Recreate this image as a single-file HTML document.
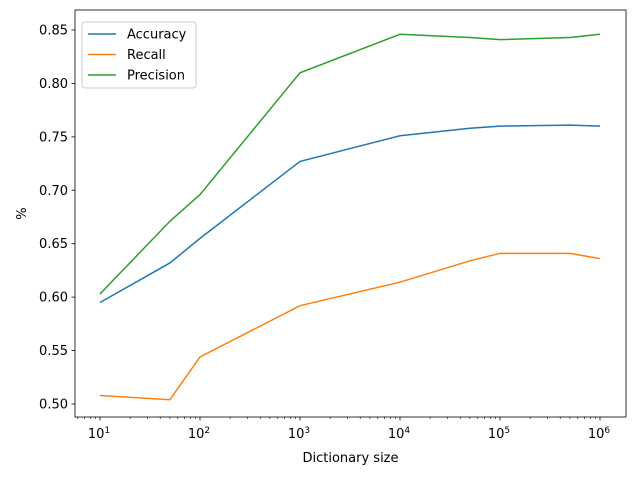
<!DOCTYPE html>
<html><head><meta charset="utf-8"><style>
body{margin:0;background:#fff}
svg text{font-family:"DejaVu Sans","Liberation Sans",sans-serif;font-size:13px;fill:#000}
</style></head><body>
<svg id="chart" width="640" height="480" xmlns="http://www.w3.org/2000/svg">
<rect x="0" y="0" width="640" height="480" fill="#fff"/>
</svg>
<script>
const xValues=[10,50,100,1000,10000,50000,100000,500000,1000000];
const accuracy=[0.595,0.632,0.655,0.727,0.751,0.758,0.760,0.761,0.760];
const recall=[0.508,0.504,0.544,0.592,0.614,0.634,0.641,0.641,0.636];
const precision=[0.603,0.671,0.696,0.810,0.846,0.843,0.841,0.843,0.846];
const yTicks=[0.50,0.55,0.60,0.65,0.70,0.75,0.80,0.85];
const xTickExps=[1,2,3,4,5,6];
const seriesNames=["Accuracy","Recall","Precision"];
const colors=["#1f77b4","#ff7f0e","#2ca02c"];

const svg=document.getElementById('chart');
const NS="http://www.w3.org/2000/svg";
const L=75,R=626,T=10,B=417;
function xs(v){return 100+(Math.log10(v)-1)*100;}
function ys(v){return 404-(v-0.5)/0.35*374;}
function mk(tag,attrs,parent){const e=document.createElementNS(NS,tag);for(const k in attrs)e.setAttribute(k,attrs[k]);(parent||svg).appendChild(e);return e;}

const all=[accuracy,recall,precision];
all.forEach((s,i)=>{
  const p=mk('polyline',{points:s.map((v,j)=>xs(xValues[j])+','+ys(v)).join(' '),fill:'none',stroke:colors[i],'stroke-width':1.5});
  
  
});
const box=mk('rect',{x:L,y:T,width:R-L,height:B-T,fill:'none',stroke:'#000','stroke-width':0.8});


yTicks.forEach(v=>{
  const y=ys(v);
  mk('line',{x1:L-3.5,x2:L,y1:y,y2:y,stroke:'#000','stroke-width':0.8});
  const t=mk('text',{x:L-7,y:y+4.5,'text-anchor':'end'});t.textContent=v.toFixed(2);
  
  
});
for(let d=1;d<=6;d++){
  for(let m=2;m<=9;m++){
    const v=m*Math.pow(10,d-1); if(d===1)continue;
    const x=xs(v); if(x<L||x>R)continue;
    mk('line',{x1:x,x2:x,y1:B,y2:B+2,stroke:'#000','stroke-width':0.6});
  }
}
for(let m=2;m<=9;m++){const x=xs(m*Math.pow(10,6));if(x<=R)mk('line',{x1:x,x2:x,y1:B,y2:B+2,stroke:'#000','stroke-width':0.6});}
for(let m=6;m<=9;m++){const x=xs(m);if(x>=L)mk('line',{x1:x,x2:x,y1:B,y2:B+2,stroke:'#000','stroke-width':0.6});}
xTickExps.forEach(e=>{
  const x=xs(Math.pow(10,e));
  mk('line',{x1:x,x2:x,y1:B,y2:B+3.5,stroke:'#000','stroke-width':0.8});
  const t=mk('text',{x:x-1,y:B+21,'text-anchor':'middle'});
  t.innerHTML='10<tspan dy="-5" font-size="9">'+e+'</tspan>';
  
  
});
const xt=mk('text',{x:(L+R)/2,y:462,'text-anchor':'middle'});xt.textContent='Dictionary size';


const yt=mk('text',{x:26,y:(T+B)/2,'text-anchor':'middle',transform:'rotate(-90 26 '+((T+B)/2)+')'});yt.textContent='%';


const g=mk('g',{});


mk('rect',{x:82,y:22,width:114,height:66,rx:3,fill:'#fff','fill-opacity':0.8,stroke:'#ccc'},g);
seriesNames.forEach((n,i)=>{
  const y=34+i*20.5;
  mk('line',{x1:88,x2:116,y1:y,y2:y,stroke:colors[i],'stroke-width':1.5},g);
  const t=mk('text',{x:127,y:y+4.5},g);t.textContent=n;
  
  
});
</script>
</body></html>
